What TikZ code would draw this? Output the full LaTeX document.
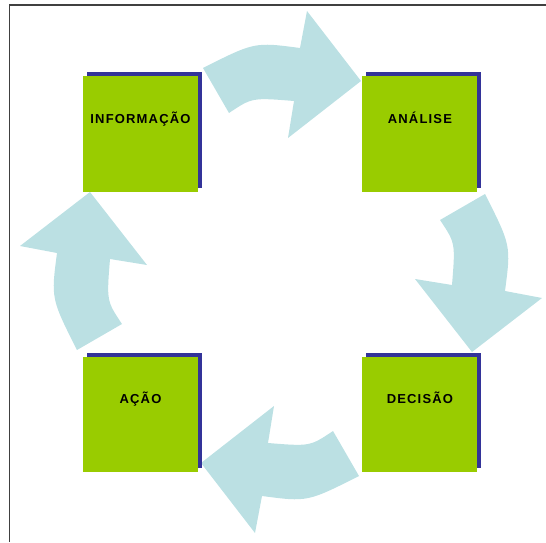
\documentclass[tikz,border=0pt]{standalone}
\usepackage{fontspec}
\newfontfamily\boxfont[LetterSpace=9]{Liberation Sans}
\usetikzlibrary{positioning,shadows}
\definecolor{boxgreen}{HTML}{99CC00}
\definecolor{shadowblue}{HTML}{333399}
\definecolor{arrowblue}{HTML}{BBE0E3}

\begin{document}
\begin{tikzpicture}[x=1pt,y=1pt,
        stage/.style={rectangle, fill=boxgreen, inner sep=0pt, minimum width=115pt,
        text height=47pt, text depth=68pt, font=\boxfont\bfseries\fontsize{13}{15}\selectfont,
        general shadow={fill=shadowblue, shadow xshift=4pt, shadow yshift=4pt}},
        cyclearrow/.pic={
          \fill[arrowblue] (-78,204) .. controls (-26.5,230) .. (19,224) -- (26,261)
            -- (80,191) -- (7,134) -- (13,171) .. controls (-29,174.4) .. (-52,159) -- cycle;
        }
        ]
        \useasboundingbox (0,0) rectangle (546,542);
        \draw[black!75, line width=1.5pt] (546,537) -| (9.5,0);

        \coordinate (mid) at (281,270);
        \pic at (mid) {cyclearrow};
        \pic [rotate=-90] at (mid) {cyclearrow};
        \pic [rotate=180] at (mid) {cyclearrow};
        \pic [rotate=90] at (mid) {cyclearrow};

        \node [stage] (info) at (140.5,408) {INFORMAÇÃO};
        \node [stage] (ana) [right=164pt of info] {ANÁLISE};
        \node [stage] (dec) [below=165pt of ana] {DECISÃO};
        \node [stage] (acao) [left=164pt of dec] {AÇÃO};
\end{tikzpicture}
\end{document}
